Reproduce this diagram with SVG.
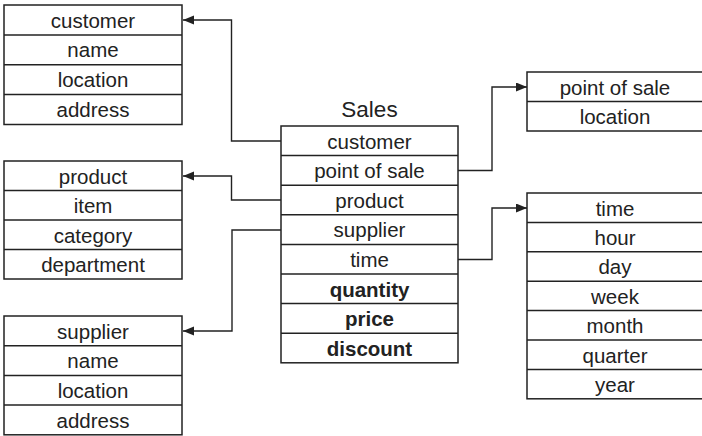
<svg xmlns="http://www.w3.org/2000/svg" width="702" height="436" viewBox="0 0 702 436">
<style>
.box{fill:#fff;stroke:#222;stroke-width:1.5}
.div{stroke:#222;stroke-width:1.5}
.t{font-family:"Liberation Sans",Arial,sans-serif;font-size:20.5px;fill:#222;text-anchor:middle}
.b{font-weight:bold}
.c{fill:none;stroke:#222;stroke-width:1.4;marker-end:url(#ah)}
</style>
<defs>
<marker id="ah" markerUnits="userSpaceOnUse" markerWidth="12" markerHeight="10" refX="11" refY="4.5" orient="auto">
<path d="M0,0 L11,4.5 L0,9 z" fill="#222"/>
</marker>
</defs>
<g id="connectors">
<path class="c" d="M281,141 H231.5 V20 H183"/>
<path class="c" d="M281,200 H231.5 V176 H183"/>
<path class="c" d="M281,230 H232 V331 H183"/>
<path class="c" d="M458,170.5 H492 V87 H527"/>
<path class="c" d="M458,259.5 H492 V208 H527"/>
</g>
<g id="customer">
<rect class="box" x="4" y="5" width="178" height="119.5"/>
<line class="div" x1="4" y1="34.9" x2="182" y2="34.9"/>
<line class="div" x1="4" y1="64.8" x2="182" y2="64.8"/>
<line class="div" x1="4" y1="94.6" x2="182" y2="94.6"/>
<text class="t" x="93" y="27.5">customer</text>
<text class="t" x="93" y="57.4">name</text>
<text class="t" x="93" y="87.3">location</text>
<text class="t" x="93" y="117.1">address</text>
</g>
<g id="product">
<rect class="box" x="4" y="161" width="178" height="118"/>
<line class="div" x1="4" y1="190.5" x2="182" y2="190.5"/>
<line class="div" x1="4" y1="220" x2="182" y2="220"/>
<line class="div" x1="4" y1="249.5" x2="182" y2="249.5"/>
<text class="t" x="93" y="183.5">product</text>
<text class="t" x="93" y="213">item</text>
<text class="t" x="93" y="242.5">category</text>
<text class="t" x="93" y="272">department</text>
</g>
<g id="supplier">
<rect class="box" x="4" y="316" width="178" height="118.8"/>
<line class="div" x1="4" y1="345.7" x2="182" y2="345.7"/>
<line class="div" x1="4" y1="375.4" x2="182" y2="375.4"/>
<line class="div" x1="4" y1="405.1" x2="182" y2="405.1"/>
<text class="t" x="93" y="338.5">supplier</text>
<text class="t" x="93" y="368.2">name</text>
<text class="t" x="93" y="397.9">location</text>
<text class="t" x="93" y="427.6">address</text>
</g>
<g id="sales">
<text class="t" x="369.5" y="117" style="font-size:22.5px">Sales</text>
<rect class="box" x="281" y="126" width="177" height="236.8"/>
<line class="div" x1="281" y1="155.6" x2="458" y2="155.6"/>
<line class="div" x1="281" y1="185.2" x2="458" y2="185.2"/>
<line class="div" x1="281" y1="214.8" x2="458" y2="214.8"/>
<line class="div" x1="281" y1="244.4" x2="458" y2="244.4"/>
<line class="div" x1="281" y1="274" x2="458" y2="274"/>
<line class="div" x1="281" y1="303.6" x2="458" y2="303.6"/>
<line class="div" x1="281" y1="333.2" x2="458" y2="333.2"/>
<text class="t" x="369.5" y="148.5">customer</text>
<text class="t" x="369.5" y="178.1">point of sale</text>
<text class="t" x="369.5" y="207.7">product</text>
<text class="t" x="369.5" y="237.3">supplier</text>
<text class="t" x="369.5" y="266.9">time</text>
<text class="t b" x="369.5" y="296.5">quantity</text>
<text class="t b" x="369.5" y="326.1">price</text>
<text class="t b" x="369.5" y="355.7">discount</text>
</g>
<g id="pointofsale">
<rect class="box" x="527" y="72" width="178" height="59"/>
<line class="div" x1="527" y1="101.5" x2="705" y2="101.5"/>
<text class="t" x="615" y="94.5">point of sale</text>
<text class="t" x="615" y="124">location</text>
</g>
<g id="time">
<rect class="box" x="527" y="193" width="178" height="205.8"/>
<line class="div" x1="527" y1="222.4" x2="705" y2="222.4"/>
<line class="div" x1="527" y1="251.8" x2="705" y2="251.8"/>
<line class="div" x1="527" y1="281.2" x2="705" y2="281.2"/>
<line class="div" x1="527" y1="310.6" x2="705" y2="310.6"/>
<line class="div" x1="527" y1="340" x2="705" y2="340"/>
<line class="div" x1="527" y1="369.4" x2="705" y2="369.4"/>
<text class="t" x="615" y="215.5">time</text>
<text class="t" x="615" y="244.9">hour</text>
<text class="t" x="615" y="274.3">day</text>
<text class="t" x="615" y="303.7">week</text>
<text class="t" x="615" y="333.1">month</text>
<text class="t" x="615" y="362.5">quarter</text>
<text class="t" x="615" y="391.9">year</text>
</g>
</svg>
